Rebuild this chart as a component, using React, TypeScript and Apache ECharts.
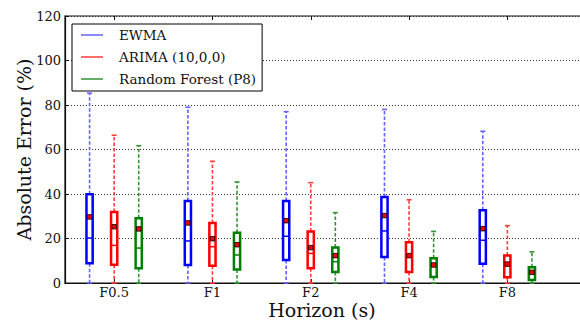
import React, { useEffect, useRef } from 'react';
import * as echarts from 'echarts';

// Horizon categories (last one is an empty slot so the plot runs past the right edge, as in the reference)
const categories = ['F0.5', 'F1', 'F2', 'F4', 'F8', ''];
const yTickValues = [0, 20, 40, 60, 80, 100, 120];

// EWMA
const ewmaMin = [0, 0, 0, 0, 0];
const ewmaQ1 = [8.9, 8.1, 10.3, 11.7, 8.7];
const ewmaMedian = [20.2, 18.9, 21.0, 23.4, 19.2];
const ewmaQ3 = [39.9, 36.9, 36.9, 38.7, 32.7];
const ewmaMax = [85.3, 79.0, 77.0, 78.0, 68.2];
const ewmaMean = [29.7, 27.0, 28.0, 30.3, 24.4];

// ARIMA (10,0,0)
const arimaMin = [0, 0, 0, 0, 0];
const arimaQ1 = [8.2, 7.8, 6.6, 4.9, 2.6];
const arimaMedian = [16.9, 16.3, 13.3, 11.8, 7.8];
const arimaQ3 = [31.9, 27.0, 23.2, 18.3, 12.4];
const arimaMax = [66.4, 54.7, 45.1, 37.4, 25.8];
const arimaMean = [25.3, 19.9, 15.9, 12.3, 8.5];

// Random Forest (P8)
const rfMin = [0, 0, 0, 0, 0];
const rfQ1 = [6.6, 6.1, 4.9, 2.7, 1.4];
const rfMedian = [15.7, 12.6, 9.6, 7.6, 4.9];
const rfQ3 = [29.1, 22.6, 15.9, 11.1, 7.1];
const rfMax = [61.7, 45.4, 31.6, 23.2, 14.0];
const rfMean = [24.3, 17.2, 12.3, 8.1, 4.8];

const FONT = "'DejaVu Serif', serif";

function build(min: number[], q1: number[], med: number[], q3: number[], max: number[], mean: number[]) {
  return min.map((_, i) => [i, min[i], q1[i], med[i], q3[i], max[i], mean[i]]);
}

function makeRender(offset: number, boxColor: string, whiskColor: string) {
  return (_params: any, api: any) => {
    const idx = api.value(0);
    const band = api.size([1, 0])[0];
    const cx = api.coord([idx, 0])[0] + offset * band;
    const y = (k: number) => api.coord([idx, api.value(k)])[1];
    const yMin = y(1), yQ1 = y(2), yMed = y(3), yQ3 = y(4), yMax = y(5), yMean = y(6);
    const bw = 6.2;
    const cap = 5;
    const dash = { stroke: whiskColor, lineWidth: 1.6, lineDash: [3.5, 2] };
    const solid = { stroke: whiskColor, lineWidth: 1.6 };
    return {
      type: 'group',
      children: [
        { type: 'line', shape: { x1: cx, y1: yQ3, x2: cx, y2: yMax }, style: dash },
        { type: 'line', shape: { x1: cx, y1: yQ1, x2: cx, y2: yMin }, style: dash },
        { type: 'line', shape: { x1: cx - cap / 2, y1: yMax, x2: cx + cap / 2, y2: yMax }, style: solid },
        { type: 'line', shape: { x1: cx - cap / 2, y1: yMin, x2: cx + cap / 2, y2: yMin }, style: solid },
        {
          type: 'rect',
          shape: { x: cx - bw / 2, y: yQ3, width: bw, height: yQ1 - yQ3 },
          style: { fill: '#ffffff', stroke: boxColor, lineWidth: 2.5 },
        },
        { type: 'line', shape: { x1: cx - bw / 2, y1: yMed, x2: cx + bw / 2, y2: yMed }, style: { stroke: boxColor, lineWidth: 1.5 } },
        {
          type: 'rect',
          shape: { x: cx - 2.25, y: yMean - 2.25, width: 4.5, height: 4.5 },
          style: { fill: '#ff0000', stroke: '#000000', lineWidth: 0.8 },
        },
      ],
    };
  };
}

export default function App() {
  const ref = useRef<HTMLDivElement>(null);
  useEffect(() => {
    if (!ref.current) return;
    const chart = echarts.init(ref.current, undefined, { renderer: 'svg' });
    const band = 98.3;
    const seriesDefs = [
      { name: 'EWMA', data: build(ewmaMin, ewmaQ1, ewmaMedian, ewmaQ3, ewmaMax, ewmaMean), offset: -0.25, box: '#0000ff', whisk: '#6464ff' },
      { name: 'ARIMA (10,0,0)', data: build(arimaMin, arimaQ1, arimaMedian, arimaQ3, arimaMax, arimaMean), offset: 0, box: '#ff0000', whisk: '#ff3c3c' },
      { name: 'Random Forest (P8)', data: build(rfMin, rfQ1, rfMedian, rfQ3, rfMax, rfMean), offset: 0.25, box: '#008000', whisk: '#359535' },
    ];
    chart.setOption({
      animation: false,
      backgroundColor: '#ffffff',
      textStyle: { fontFamily: FONT },
      grid: {
        left: 65,
        top: 16,
        width: band * categories.length,
        height: 267,
        outerBoundsMode: 'none',
        containLabel: false,
        show: true,
        borderColor: '#111',
        borderWidth: 1.2,
        backgroundColor: 'transparent',
      },
      legend: {
        orient: 'vertical',
        left: 72,
        top: 24,
        padding: [3, 6, 4, 9],
        itemGap: 6,
        itemWidth: 22,
        itemHeight: 1.5,
        borderColor: '#000',
        borderWidth: 1,
        backgroundColor: '#ffffff',
        borderRadius: 0,
        data: seriesDefs.map((s) => ({ name: s.name, icon: 'rect' })),
        textStyle: { fontFamily: FONT, fontSize: 13.5, color: '#111', lineHeight: 16, padding: [0, 0, 0, 11] },
      },
      xAxis: [
        {
          type: 'category',
          data: categories,
          boundaryGap: true,
          name: 'Horizon (s)',
          nameLocation: 'middle',
          nameGap: 17,
          nameMoveOverlap: false,
          nameTextStyle: { fontFamily: FONT, fontSize: 19, lineHeight: 19, color: '#111', padding: [0, 76, 0, 0] },
          axisLine: { show: true, lineStyle: { color: '#111', width: 1.2 } },
          axisTick: { show: true, inside: true, alignWithLabel: true, length: 4, lineStyle: { color: '#111' } },
          axisLabel: { interval: 0, margin: 3, lineHeight: 13, fontFamily: FONT, fontSize: 13, color: '#111' },
          splitLine: { show: false },
        },
        {
          type: 'category',
          data: categories,
          position: 'top',
          boundaryGap: true,
          axisLine: { show: false },
          axisTick: { show: true, inside: true, alignWithLabel: true, length: 4, lineStyle: { color: '#111' } },
          axisLabel: { show: false },
          splitLine: { show: false },
        },
      ],
      yAxis: {
        type: 'value',
        min: yTickValues[0],
        max: yTickValues[yTickValues.length - 1],
        interval: 20,
        name: 'Absolute Error (%)',
        nameLocation: 'middle',
        nameGap: 32,
        nameMoveOverlap: false,
        nameTextStyle: { fontFamily: FONT, fontSize: 19, lineHeight: 19, color: '#111' },
        axisLine: { show: true, lineStyle: { color: '#111', width: 1.2 } },
        axisTick: { show: true, inside: true, length: 4, lineStyle: { color: '#111' } },
        axisLabel: { margin: 4, fontFamily: FONT, fontSize: 13, color: '#111' },
        splitLine: { show: true, lineStyle: { color: '#333', width: 1, type: [1, 2] } },
      },
      series: seriesDefs.map((s) => ({
        type: 'custom',
        name: s.name,
        xAxisIndex: 0,
        yAxisIndex: 0,
        itemStyle: { color: s.whisk },
        encode: { x: 0, y: [1, 2, 3, 4, 5, 6] },
        renderItem: makeRender(s.offset, s.box, s.whisk),
        data: s.data,
        z: 2,
      })),
    });
    return () => chart.dispose();
  }, []);
  return (
    <div
      ref={ref}
      style={{ position: 'fixed', left: 0, top: 0, width: 580, height: 323, background: '#fff' }}
    />
  );
}
